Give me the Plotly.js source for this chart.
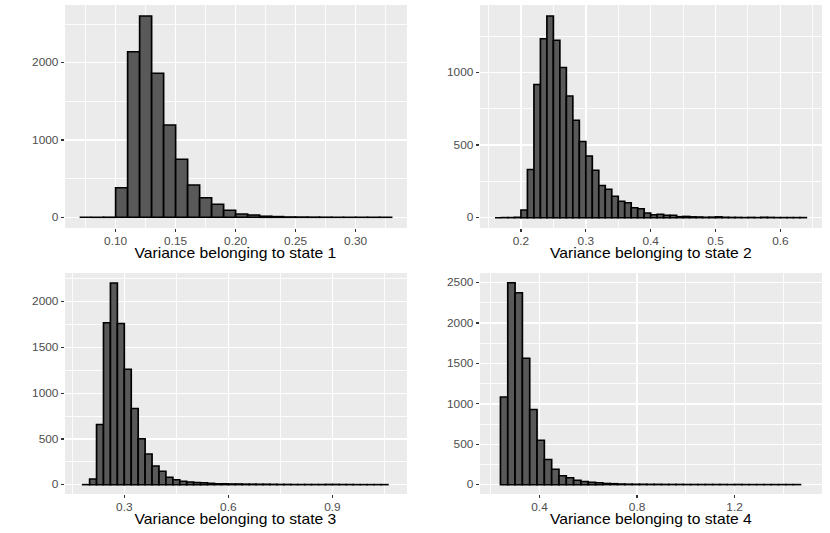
<!DOCTYPE html>
<html>
<head>
<meta charset="utf-8">
<script src="https://cdn.plot.ly/plotly-3.0.1.min.js"></script>
<style>
  html, body { margin: 0; padding: 0; background: #fff; overflow: hidden; }
  /* the reference picture is stretched sideways; draw narrower and widen it */
  #chart { transform-origin: 0 0; }
</style>
</head>
<body>
<div id="chart"></div>
<script>
// histogram bins: left edge of first bin and bin width per state
const BIN_START = [0.07, 0.16, 0.18, 0.24];
const BIN_WIDTH = [0.01, 0.01, 0.02, 0.03];

const COUNTS_1 = [0, 1, 2, 384, 2142, 2603, 1862, 1194, 750, 418, 254, 168, 90,
  43, 30, 15, 10, 5, 4, 3, 2, 1, 1, 1, 1, 1];
const COUNTS_2 = [0, 1, 1, 3, 53, 331, 917, 1232, 1389, 1221, 1034, 837, 671, 524,
  425, 326, 221, 195, 147, 113, 103, 69, 62, 32, 20, 23, 16, 16, 7, 9, 6, 5, 3, 4,
  6, 3, 2, 2, 1, 2, 1, 3, 2, 1, 1, 1, 1, 1];
const COUNTS_3 = [1, 62, 658, 1770, 2205, 1762, 1261, 834, 501, 336, 205, 146, 80,
  55, 37, 29, 25, 20, 15, 10, 10, 8, 8, 6, 6, 5, 5, 4, 3, 3, 2, 2, 2, 2, 2, 3, 3,
  2, 2, 1, 1, 1, 1, 1];
const COUNTS_4 = [1084, 2500, 2376, 1565, 931, 550, 310, 190, 110, 85, 54, 40, 28,
  22, 15, 12, 8, 6, 5, 5, 4, 4, 3, 3, 3, 2, 2, 2, 2, 2, 2, 1, 2, 1, 1, 1, 1, 1, 1, 1, 1];

const X_TITLES = ['Variance belonging to state 1', 'Variance belonging to state 2',
  'Variance belonging to state 3', 'Variance belonging to state 4'];
const X_TICKS = [[0.10, 0.15, 0.20, 0.25, 0.30], [0.2, 0.3, 0.4, 0.5, 0.6],
  [0.3, 0.6, 0.9], [0.4, 0.8, 1.2]];
const X_TICKTEXT = [['0.10', '0.15', '0.20', '0.25', '0.30'], ['0.2', '0.3', '0.4', '0.5', '0.6'],
  ['0.3', '0.6', '0.9'], ['0.4', '0.8', '1.2']];
const Y_TICKS = [[0, 1000, 2000], [0, 500, 1000], [0, 500, 1000, 1500, 2000],
  [0, 500, 1000, 1500, 2000, 2500]];

const ALL = [COUNTS_1, COUNTS_2, COUNTS_3, COUNTS_4];

// final picture size and horizontal stretch
const W = 830, H = 533, SX = 1.12;
const WL = W / SX;

// panel boxes in pixels of the final 830x533 picture
const PANELS = [
  { x0: 65, x1: 407, y0: 5, y1: 228, xr: [0.0578, 0.3428], yr: [-138, 2746], ty: 252.7 },
  { x0: 480, x1: 822, y0: 5, y1: 228, xr: [0.1368, 0.664], yr: [-71, 1464], ty: 252.7 },
  { x0: 65, x1: 407, y0: 273, y1: 494, xr: [0.129, 1.115], yr: [-102, 2314], ty: 519.3 },
  { x0: 480, x1: 822, y0: 273, y1: 494, xr: [0.156, 1.558], yr: [-116, 2620], ty: 519.3 },
];

// ggplot-style minor grid: halfway between majors, plus one step outside each end
function minorVals(major) {
  const step = major[1] - major[0];
  const out = [major[0] - step / 2];
  major.forEach((v) => out.push(v + step / 2));
  return out;
}

const FONT = 'Liberation Sans, Arial, Helvetica, sans-serif';
const TICKFONT = { size: 10.6, color: '#4d4d4d' };
const traces = [];
const layout = {
  width: WL, height: H,
  margin: { l: 0, r: 0, t: 0, b: 0 },
  paper_bgcolor: '#ffffff',
  showlegend: false,
  bargap: 0,
  font: { family: FONT },
  annotations: [],
};

ALL.forEach((counts, i) => {
  const p = PANELS[i];
  const n = i === 0 ? '' : String(i + 1);
  const centers = counts.map((_, k) => BIN_START[i] + BIN_WIDTH[i] * (k + 0.5));
  traces.push({
    type: 'bar', x: centers, y: counts, width: BIN_WIDTH[i],
    xaxis: 'x' + n, yaxis: 'y' + n,
    marker: { color: '#595959', line: { color: '#000000', width: 1.5 } },
    hovertemplate: '%{x}: %{y}<extra></extra>',
  });
  layout['xaxis' + n] = {
    domain: [p.x0 / W, p.x1 / W], anchor: 'y' + n, range: p.xr,
    tickvals: X_TICKS[i], ticktext: X_TICKTEXT[i],
    ticks: 'outside', ticklen: 3, tickcolor: '#333333', tickwidth: 1,
    tickfont: TICKFONT,
    showgrid: true, gridcolor: '#ffffff', gridwidth: 1.4, zeroline: false, showline: false,
    minor: { tickvals: minorVals(X_TICKS[i]), showgrid: true, gridcolor: '#ffffff', gridwidth: 0.8, ticks: '' },
    automargin: false, fixedrange: true,
  };
  layout['yaxis' + n] = {
    domain: [1 - p.y1 / H, 1 - p.y0 / H], anchor: 'x' + n, range: p.yr,
    tickvals: Y_TICKS[i],
    ticks: 'outside', ticklen: 2.7, tickcolor: '#333333', tickwidth: 1.2,
    tickfont: TICKFONT,
    showgrid: true, gridcolor: '#ffffff', gridwidth: 1.4, zeroline: false, showline: false,
    minor: { tickvals: minorVals(Y_TICKS[i]), showgrid: true, gridcolor: '#ffffff', gridwidth: 0.8, ticks: '' },
    automargin: false, fixedrange: true,
  };
  // x-axis title, centred under its panel
  layout.annotations.push({
    text: X_TITLES[i], xref: 'paper', yref: 'paper', showarrow: false,
    x: (p.x0 + p.x1) / 2 / W, y: 1 - p.ty / H, xanchor: 'center', yanchor: 'middle',
    font: { size: 14, color: '#000000' },
  });
});

// grey panel backgrounds
layout.shapes = PANELS.map((p) => ({
  type: 'rect', xref: 'paper', yref: 'paper', layer: 'below',
  x0: p.x0 / W, x1: p.x1 / W, y0: 1 - p.y1 / H, y1: 1 - p.y0 / H,
  fillcolor: '#ebebeb', line: { width: 0 },
}));

const el = document.getElementById('chart');
el.style.width = WL + 'px';
el.style.height = H + 'px';
el.style.transform = 'scaleX(' + SX + ')';
Plotly.newPlot(el, traces, layout, { displayModeBar: false, staticPlot: true });
</script>
</body>
</html>
